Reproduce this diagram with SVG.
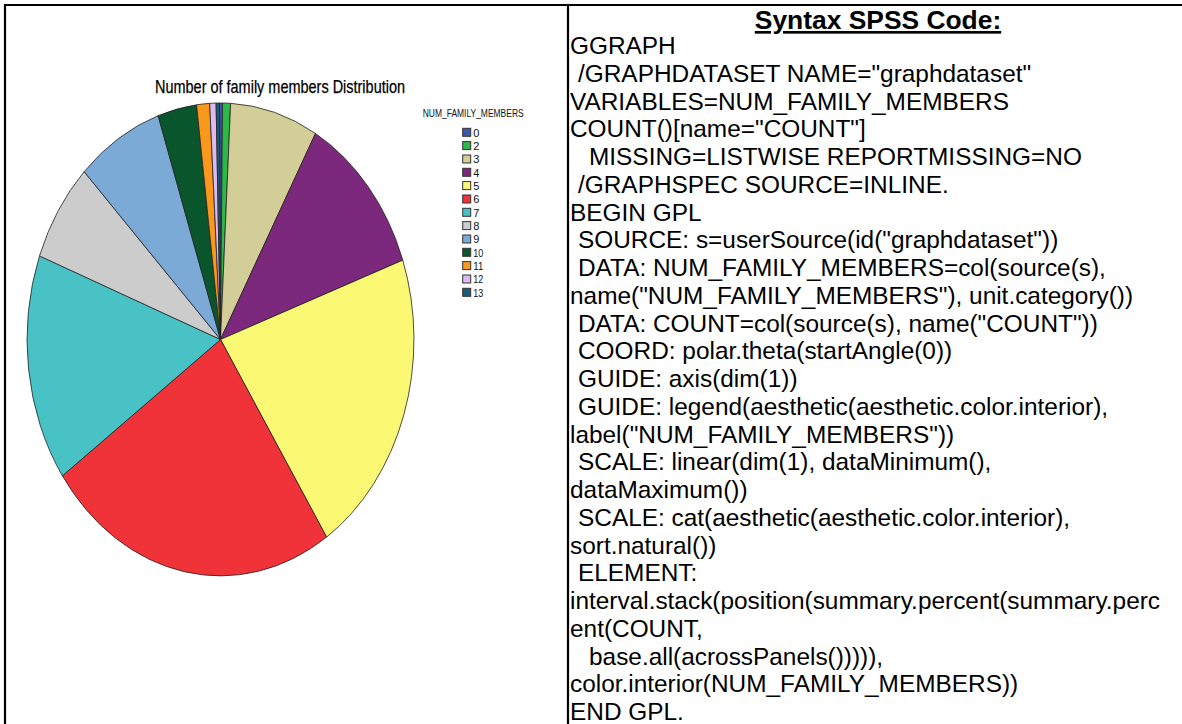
<svg xmlns="http://www.w3.org/2000/svg" width="1182" height="724" viewBox="0 0 1182 724">
  <style>
    .rule { stroke: #000; stroke-width: 2.2; fill: none; }
    .slice { stroke: #222; stroke-width: 0.8; stroke-linejoin: round; }
    .sw { stroke: #333; stroke-width: 1; }
    .ttl { font-family: "Liberation Sans", Arial, sans-serif; font-size: 18.5px; fill: #000; stroke: #000; stroke-width: 0.25; }
    .lgt { font-family: "Liberation Sans", Arial, sans-serif; font-size: 10px; fill: #111; }
    .lgl { font-family: "Liberation Sans", Arial, sans-serif; font-size: 11px; fill: #111; }
    .code { font-family: "Liberation Sans", Arial, sans-serif; font-size: 24.4px; fill: #000; }
    .head { font-family: "Liberation Sans", Arial, sans-serif; font-size: 26.4px; font-weight: bold; fill: #000; text-decoration: underline; }
  </style>

  <rect width="1182" height="724" fill="#fff"/>

  <!-- table frame -->
  <g id="frame">
    <line class="rule" x1="4" y1="5" x2="1182" y2="5"/>
    <line class="rule" x1="5" y1="4" x2="5" y2="724"/>
    <line class="rule" x1="568" y1="4" x2="568" y2="724"/>
  </g>

  <!-- pie chart: centre (220.5,339.5), radii 193.5 x 236.5, clockwise from 12 o'clock -->
  <g id="chart">
    <text class="ttl" x="155" y="93" textLength="250" lengthAdjust="spacingAndGlyphs">Number of family members Distribution</text>
    <g id="pie">
      <path id="s0" class="slice" fill="#3E58AC" d="M220.5,339.5 L219.49,103 A193.5,236.5 0 0 1 222.53,103.01 Z"/>
      <path id="s2" class="slice" fill="#2EB848" d="M220.5,339.5 L222.53,103.01 A193.5,236.5 0 0 1 230.63,103.32 Z"/>
      <path id="s3" class="slice" fill="#D3CE97" d="M220.5,339.5 L230.63,103.32 A193.5,236.5 0 0 1 315.49,133.46 Z"/>
      <path id="s4" class="slice" fill="#7C287D" d="M220.5,339.5 L315.49,133.46 A193.5,236.5 0 0 1 402.79,260.16 Z"/>
      <path id="s5" class="slice" fill="#FBF873" d="M220.5,339.5 L402.79,260.16 A193.5,236.5 0 0 1 326.6,537.1 Z"/>
      <path id="s6" class="slice" fill="#EF3338" d="M220.5,339.5 L326.6,537.1 A193.5,236.5 0 0 1 62.38,475.82 Z"/>
      <path id="s7" class="slice" fill="#48C2C5" d="M220.5,339.5 L62.38,475.82 A193.5,236.5 0 0 1 39.5,255.9 Z"/>
      <path id="s8" class="slice" fill="#CCCCCC" d="M220.5,339.5 L39.5,255.9 A193.5,236.5 0 0 1 84.16,171.68 Z"/>
      <path id="s9" class="slice" fill="#7AAAD5" d="M220.5,339.5 L84.16,171.68 A193.5,236.5 0 0 1 158.14,115.63 Z"/>
      <path id="s10" class="slice" fill="#0A562C" d="M220.5,339.5 L158.14,115.63 A193.5,236.5 0 0 1 196.58,104.81 Z"/>
      <path id="s11" class="slice" fill="#F8981D" d="M220.5,339.5 L196.58,104.81 A193.5,236.5 0 0 1 209.7,103.37 Z"/>
      <path id="s12" class="slice" fill="#DDBAF1" d="M220.5,339.5 L209.7,103.37 A193.5,236.5 0 0 1 216.11,103.06 Z"/>
      <path id="s13" class="slice" fill="#1A5F76" d="M220.5,339.5 L216.11,103.06 A193.5,236.5 0 0 1 219.49,103 Z"/>
    </g>

    <g id="legend">
      <text class="lgt" x="422.7" y="116.5" textLength="101" lengthAdjust="spacingAndGlyphs">NUM_FAMILY_MEMBERS</text>
      <rect class="sw" x="462.7" y="128.3" width="8" height="8" fill="#3E58AC"/>
      <text class="lgl" x="473.3" y="136.5">0</text>
      <rect class="sw" x="462.7" y="141.6" width="8" height="8" fill="#2EB848"/>
      <text class="lgl" x="473.3" y="149.8">2</text>
      <rect class="sw" x="462.7" y="155" width="8" height="8" fill="#D3CE97"/>
      <text class="lgl" x="473.3" y="163.2">3</text>
      <rect class="sw" x="462.7" y="168.3" width="8" height="8" fill="#7C287D"/>
      <text class="lgl" x="473.3" y="176.5">4</text>
      <rect class="sw" x="462.7" y="181.6" width="8" height="8" fill="#FBF873"/>
      <text class="lgl" x="473.3" y="189.8">5</text>
      <rect class="sw" x="462.7" y="195" width="8" height="8" fill="#EF3338"/>
      <text class="lgl" x="473.3" y="203.2">6</text>
      <rect class="sw" x="462.7" y="208.3" width="8" height="8" fill="#48C2C5"/>
      <text class="lgl" x="473.3" y="216.5">7</text>
      <rect class="sw" x="462.7" y="221.6" width="8" height="8" fill="#CCCCCC"/>
      <text class="lgl" x="473.3" y="229.8">8</text>
      <rect class="sw" x="462.7" y="235" width="8" height="8" fill="#7AAAD5"/>
      <text class="lgl" x="473.3" y="243.2">9</text>
      <rect class="sw" x="462.7" y="248.3" width="8" height="8" fill="#0A562C"/>
      <text class="lgl" x="473.3" y="256.5" textLength="10" lengthAdjust="spacingAndGlyphs">10</text>
      <rect class="sw" x="462.7" y="261.6" width="8" height="8" fill="#F8981D"/>
      <text class="lgl" x="473.3" y="269.8" textLength="10" lengthAdjust="spacingAndGlyphs">11</text>
      <rect class="sw" x="462.7" y="275" width="8" height="8" fill="#DDBAF1"/>
      <text class="lgl" x="473.3" y="283.2" textLength="10" lengthAdjust="spacingAndGlyphs">12</text>
      <rect class="sw" x="462.7" y="288.3" width="8" height="8" fill="#1A5F76"/>
      <text class="lgl" x="473.3" y="296.5" textLength="10" lengthAdjust="spacingAndGlyphs">13</text>
    </g>
  </g>

  <!-- GPL syntax listing -->
  <g id="syntax">
    <text class="head" x="878" y="29" text-anchor="middle">Syntax SPSS Code:</text>
    <text class="code" x="570" y="54">GGRAPH</text>
    <text class="code" x="578" y="81.75">/GRAPHDATASET NAME="graphdataset"</text>
    <text class="code" x="570" y="109.5">VARIABLES=NUM_FAMILY_MEMBERS</text>
    <text class="code" x="570" y="137.25">COUNT()[name="COUNT"]</text>
    <text class="code" x="589" y="165">MISSING=LISTWISE REPORTMISSING=NO</text>
    <text class="code" x="578" y="192.75">/GRAPHSPEC SOURCE=INLINE.</text>
    <text class="code" x="570" y="220.5">BEGIN GPL</text>
    <text class="code" x="578" y="248.25">SOURCE: s=userSource(id("graphdataset"))</text>
    <text class="code" x="578" y="276">DATA: NUM_FAMILY_MEMBERS=col(source(s),</text>
    <text class="code" x="570" y="303.75">name("NUM_FAMILY_MEMBERS"), unit.category())</text>
    <text class="code" x="578" y="331.5">DATA: COUNT=col(source(s), name("COUNT"))</text>
    <text class="code" x="578" y="359.25">COORD: polar.theta(startAngle(0))</text>
    <text class="code" x="578" y="387">GUIDE: axis(dim(1))</text>
    <text class="code" x="578" y="414.75">GUIDE: legend(aesthetic(aesthetic.color.interior),</text>
    <text class="code" x="570" y="442.5">label("NUM_FAMILY_MEMBERS"))</text>
    <text class="code" x="578" y="470.25">SCALE: linear(dim(1), dataMinimum(),</text>
    <text class="code" x="570" y="498">dataMaximum())</text>
    <text class="code" x="578" y="525.75">SCALE: cat(aesthetic(aesthetic.color.interior),</text>
    <text class="code" x="570" y="553.5">sort.natural())</text>
    <text class="code" x="578" y="581.25">ELEMENT:</text>
    <text class="code" x="570" y="609">interval.stack(position(summary.percent(summary.perc</text>
    <text class="code" x="570" y="636.75">ent(COUNT,</text>
    <text class="code" x="589" y="664.5">base.all(acrossPanels())))),</text>
    <text class="code" x="570" y="692.25">color.interior(NUM_FAMILY_MEMBERS))</text>
    <text class="code" x="570" y="720">END GPL.</text>
  </g>
</svg>
